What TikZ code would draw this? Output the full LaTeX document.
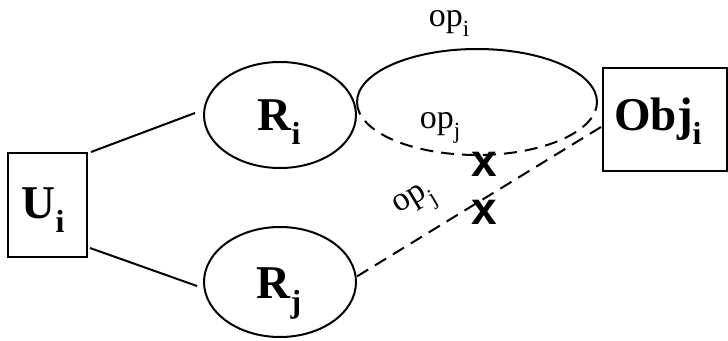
\documentclass[tikz,border=0pt]{standalone}
\usepackage{fontspec}
\usepackage{graphicx}
\usetikzlibrary{shapes.geometric,calc}
\setmainfont{Liberation Serif}
\newfontfamily\xfont{Liberation Sans}
\newcommand{\lowsub}[1]{\raisebox{-0.3em}{\scalebox{0.68}{#1}}}
\begin{document}
\begin{tikzpicture}[x=1pt,y=1pt,
  ln/.style={line width=2pt},
  dsh/.style={line width=2pt,dash pattern=on 13pt off 8pt},
  boxn/.style={draw,line width=2pt,inner sep=0pt},
  big/.style={font=\fontsize{47}{47}\selectfont\bfseries,inner sep=0pt,anchor=base},
  opl/.style={font=\fontsize{34}{34}\selectfont,inner sep=0pt,anchor=base},
  xm/.style={font=\fontsize{46}{46}\selectfont\xfont\bfseries,inner sep=0pt}]
\useasboundingbox (0,0) rectangle (728,-340);
\fill[white] (0,0) rectangle (728,-340);
% shapes
\node[boxn,minimum width=79pt,minimum height=104pt] (U) at (47.5,-205) {};
\node[boxn,minimum width=124pt,minimum height=103pt] (O) at (665,-119.5) {};
\coordinate (Ri) at (280,-115);
\coordinate (Rj) at (280,-282);
\coordinate (E) at (477,-102);
\draw[ln] (Ri) ellipse[x radius=76,y radius=53];
\draw[ln] (Rj) ellipse[x radius=76,y radius=55];
\draw[ln] ($(E)+(-120,0)$) arc[start angle=180,end angle=0,x radius=120,y radius=53];
\draw[dsh] ($(E)+(-120,0)$) arc[start angle=180,end angle=360,x radius=120,y radius=53];
% labels
\node[big] (Ut) at (43,-218) {U\lowsub{i}};
\node[big] (Rit) at (279,-130) {R\lowsub{i}};
\node[big] (Rjt) at (279,-298) {R\lowsub{j}};
\node[big] (Ot) at (658,-130) {Obj\lowsub{i}};
\node[opl] (opi) at (449,-26) {op\lowsub{i}};
\node[opl] (opj) at (440,-128) {op\lowsub{j}};
\node[opl,anchor=center,rotate=31] (opj2) at (416,-203) {op\lowsub{j}};
\node[xm] (x1) at (484,-164) {x};
\node[xm] (x2) at (484,-212) {x};
% connectors
\coordinate (u1) at (91,-152);
\coordinate (r1) at (195,-113);
\coordinate (u2) at (90,-248);
\coordinate (r2) at (197,-286);
\coordinate (o1) at (601,-127);
\coordinate (r3) at (356,-277);
\draw[ln] (u1) -- (r1);
\draw[ln] (u2) -- (r2);
\draw[dsh] (o1) -- (r3);
\end{tikzpicture}
\end{document}
